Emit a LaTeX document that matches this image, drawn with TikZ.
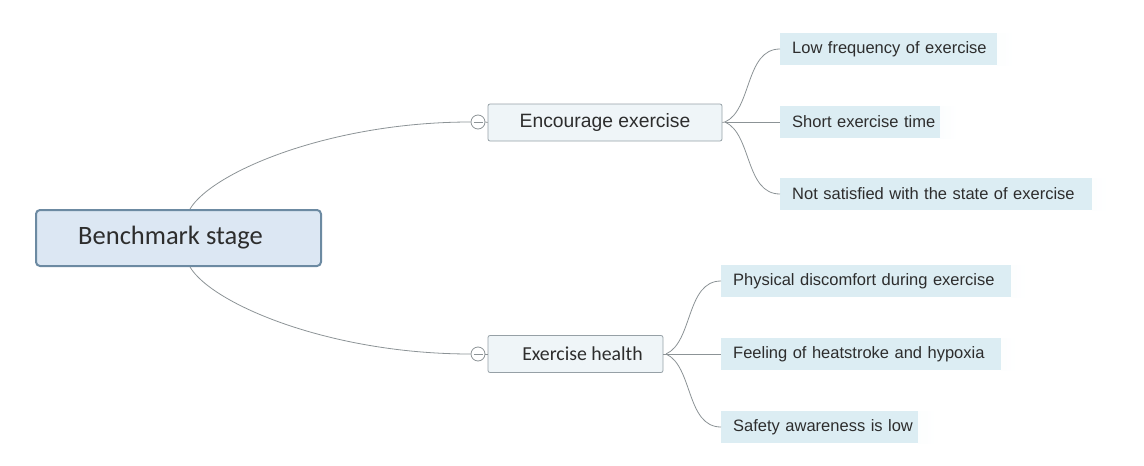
\documentclass[tikz,border=0pt]{standalone}
\usepackage{fontspec}
\setmainfont{Liberation Sans}
\newfontfamily\arialike{Liberation Sans}
\newfontfamily\calibrilike{Carlito}
\begin{document}
\begin{tikzpicture}[x=1pt,y=-1pt]
\definecolor{rootfill}{RGB}{220,231,243}
\definecolor{rootline}{RGB}{108,138,162}
\definecolor{topicfill}{RGB}{239,245,248}
\definecolor{topicline}{RGB}{150,160,166}
\definecolor{leaffill}{RGB}{220,237,243}
\definecolor{wire}{RGB}{140,147,150}
\definecolor{ink}{RGB}{45,45,45}
\tikzset{
  rootbox/.style={draw=rootline, line width=2pt, fill=rootfill, rounded corners=4pt,
    minimum width=285pt, minimum height=56pt, inner sep=0pt,
    font=\calibrilike\fontsize{26.5}{30}\selectfont, text=ink},
  topicbox/.style={draw=topicline, line width=0.8pt, fill=topicfill, rounded corners=2pt,
    minimum height=37pt, inner sep=0pt, text=ink},
  leaf/.style={anchor=west, fill=leaffill, inner xsep=12pt, inner ysep=0pt,
    minimum height=32pt, text=ink, font=\arialike\fontsize{16.5}{19}\selectfont,
    align=left,
    path picture={\shade[left color=leaffill, right color=white]
      ([xshift=-18pt]path picture bounding box.north east)
      rectangle (path picture bounding box.south east);}},
  wirepath/.style={draw=wire, line width=0.8pt},
  knob/.style={circle, draw=wire, line width=0.8pt, fill=white, minimum size=14pt, inner sep=0pt,
    path picture={\draw[wire, line width=0.8pt]
      ([xshift=-4.5pt]path picture bounding box.center) -- ([xshift=4.5pt]path picture bounding box.center);}}
}
\useasboundingbox (0,0) rectangle (1144,466);

% root (label set a little left of centre)
\node[rootbox] (root) at (178.5,238) {\hspace*{-16pt}Benchmark stage};

% main topics
\node[topicbox, minimum width=234pt, font=\arialike\fontsize{19.3}{22}\selectfont] (enc) at (605,122.5) {Encourage exercise};
\node[topicbox, minimum width=175pt, font=\calibrilike\fontsize{19.8}{22}\selectfont] (hea) at (575.5,354) {\hspace*{14pt}Exercise health};
\node[knob] (k1) at (478,122) {};
\node[knob] (k2) at (478,354) {};

% root to topics
\coordinate (rt) at (190,209);
\coordinate (rb) at (190,267);
\draw[wirepath] (rt) .. controls (212,172) and (330,122) .. (k1.west);
\draw[wirepath] (rb) .. controls (212,304) and (330,354) .. (k2.west);
\draw[wirepath] (k1.east) -- (enc.west);
\draw[wirepath] (k2.east) -- (hea.west);

% leaves of the first topic
\node[leaf, text width=211pt] (l1) at (780,49) {Low frequency of exercise};
\node[leaf, text width=154pt] (l2) at (780,122) {Short exercise time};
\node[leaf, text width=306pt] (l3) at (780,194) {Not satisfied with the state of exercise};
\coordinate (f1) at (725,122);
\draw[wirepath] (enc.east) -- (f1);
\draw[wirepath] (f1) .. controls (752,110) and (745,49) .. (l1.west);
\draw[wirepath] (f1) -- (l2.west);
\draw[wirepath] (f1) .. controls (752,134) and (745,194) .. (l3.west);

% leaves of the second topic
\node[leaf, text width=284pt] (m1) at (721,281) {Physical discomfort during exercise};
\node[leaf, text width=274pt] (m2) at (721,354) {Feeling of heatstroke and hypoxia};
\node[leaf, text width=191pt] (m3) at (721,427) {Safety awareness is low};
\coordinate (f2) at (666,354);
\draw[wirepath] (hea.east) -- (f2);
\draw[wirepath] (f2) .. controls (693,342) and (686,281) .. (m1.west);
\draw[wirepath] (f2) -- (m2.west);
\draw[wirepath] (f2) .. controls (693,366) and (686,427) .. (m3.west);
\end{tikzpicture}
\end{document}
